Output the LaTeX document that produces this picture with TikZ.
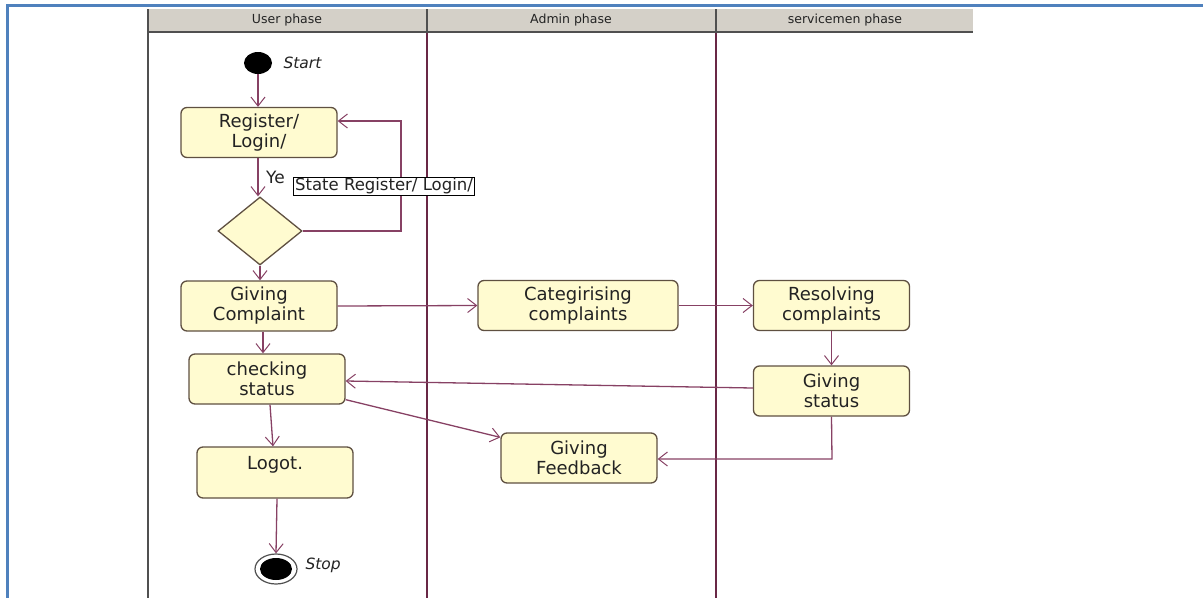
\documentclass[tikz,border=0pt]{standalone}
\usepackage{fontspec}
\setmainfont{DejaVu Sans}
\usetikzlibrary{arrows.meta,shapes.geometric,calc}
\definecolor{blueframe}{RGB}{79,129,189}
\definecolor{headfill}{RGB}{212,208,200}
\definecolor{headline}{RGB}{80,80,80}
\definecolor{lanecol}{RGB}{105,40,70}
\definecolor{arrcol}{RGB}{135,65,100}
\definecolor{boxfill}{RGB}{255,251,208}
\definecolor{boxline}{RGB}{95,80,65}
\definecolor{txtcol}{RGB}{35,35,35}
\tikzset{
  act/.style={draw=boxline, line width=1.3pt, fill=boxfill, rounded corners=6pt,
    minimum width=156pt, minimum height=50pt, align=center, text=txtcol,
    font=\fontsize{18}{20}\selectfont, inner sep=0pt},
  arr/.style={draw=arrcol, line width=1.3pt, -{Straight Barb[length=9pt,width=14pt,line width=1pt]}},
  headtxt/.style={font=\fontsize{12.5}{14}\selectfont, text=txtcol},
  lbl/.style={font=\fontsize{15.5}{17}\selectfont\itshape, text=txtcol}
}
\begin{document}
\begin{tikzpicture}[x=1pt,y=-1pt]
\useasboundingbox (0,0) rectangle (1203,598);
% blue frame
\draw[blueframe, line width=3pt] (6,5) -- (1203,5);
\draw[blueframe, line width=3pt] (7,4) -- (7,598);
% header band
\fill[headfill] (148,9) rectangle (973,31);
\draw[headline, line width=2.5pt] (148,32) -- (973,32);
\draw[headline, line width=1.5pt] (148,9) -- (148,598);
\draw[headline, line width=1.2pt] (427,9) -- (427,33);
\draw[headline, line width=1.2pt] (716,9) -- (716,33);
\draw[lanecol, line width=1.4pt] (427,33) -- (427,598);
\draw[lanecol, line width=1.4pt] (716,33) -- (716,598);
\node[headtxt] (h1) at (287,20) {User phase};
\node[headtxt] (h2) at (571,20) {Admin phase};
\node[headtxt] (h3) at (845,20) {servicemen phase};
% start
\node[ellipse, fill=black, minimum width=28pt, minimum height=22pt, inner sep=0pt] (start) at (258,63) {};
\node[lbl, anchor=west] (startl) at (280,63) {Start};
% activities
\node[act] (reg) at (259,132.5) {Register/\\Login/};
\node[diamond, draw=boxline, line width=1.3pt, fill=boxfill, minimum width=84pt, minimum height=68pt, inner sep=0pt] (dia) at (260,231) {};
\node[act] (gc) at (259,306) {Giving\\Complaint};
\node[act, minimum width=200pt] (cat) at (578,305.5) {Categirising\\complaints};
\node[act] (res) at (831.5,305.5) {Resolving\\complaints};
\node[act] (chk) at (267,379) {checking\\status};
\node[act] (gs) at (831.5,391) {Giving\\status};
\node[act] (fb) at (579,458) {Giving\\Feedback};
\node[act, minimum height=51pt] (lo) at (275,472.5) {Logot.\\\mbox{}};
% stop
\node[ellipse, draw=headline, line width=1.2pt, fill=white, minimum width=42pt, minimum height=30pt, inner sep=0pt] (stopo) at (276,569) {};
\node[ellipse, fill=black, minimum width=32pt, minimum height=22pt, inner sep=0pt] (stop) at (276,569) {};
\node[lbl, anchor=west] (stopl) at (302,565) {Stop};
% connectors
\draw[arr] (start.south) -- (start.south |- reg.north);
\draw[arr] (reg.south -| start.south) -- (dia.north -| start.south);
\coordinate (loopc) at (401,121);
\draw[arr] (dia.east) -| (loopc) -- (reg.east |- loopc);
\node[font=\fontsize{17}{19}\selectfont, text=txtcol, anchor=west, inner sep=0pt] (ye) at (266,177) {Ye};
\node[draw=black, line width=0.8pt, fill=white, font=\fontsize{16.5}{18}\selectfont, text=txtcol, inner xsep=2pt, inner ysep=1pt] (guard) at (384,186) {State Register/ Login/};
\draw[arr] (dia.south) -- (dia.south |- gc.north);
\draw[arr] (gc.east) -- (cat.west);
\draw[arr] (cat.east) -- (res.west);
\draw[arr] ($(gc.south)+(4,0)$) -- ($(gc.south |- chk.north)+(4,0)$);
\draw[arr] (res.south) -- (gs.north);
\draw[arr] ($(gs.west)+(0,-3)$) -- ($(chk.east)+(0,2)$);
\draw[arr] ($(chk.south east)+(0,-5)$) -- ($(fb.north west)+(0,5)$);
\coordinate (fbc) at (832,459);
\draw[arr] (gs.south) -- (fbc) -- (fb.east |- fbc);
\draw[arr] ($(chk.south)+(3,0)$) -- ($(lo.north)+(-2,0)$);
\draw[arr] ($(lo.south)+(2,0)$) -- (stopo.north);
\end{tikzpicture}
\end{document}
